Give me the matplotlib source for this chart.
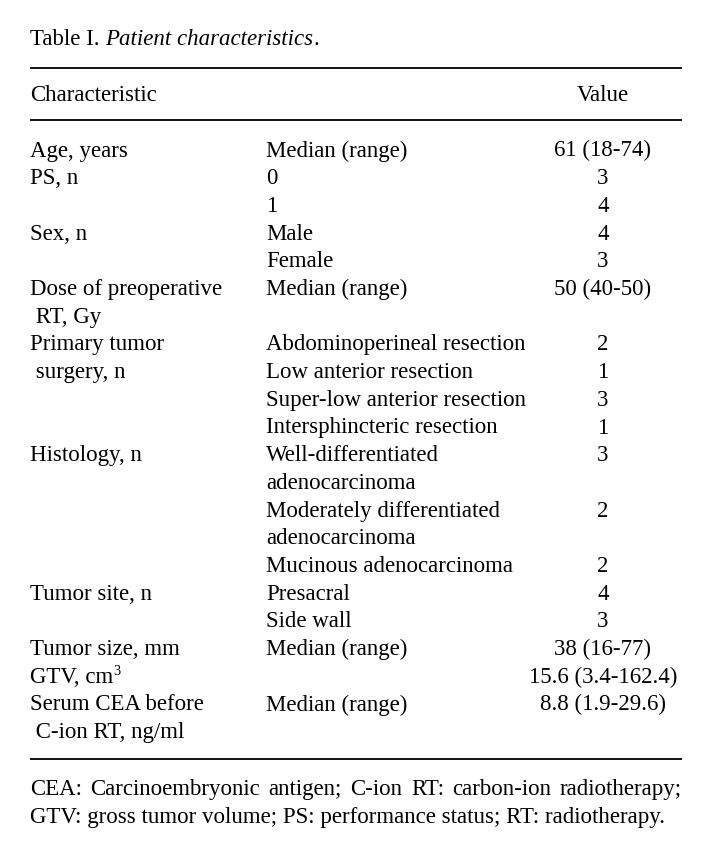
import matplotlib
matplotlib.use('Agg')
import matplotlib.pyplot as plt

plt.rcParams['font.family'] = ['Liberation Serif', 'DejaVu Serif']

# Table content, one entry per printed line
caption_label = 'Table I. '
caption_title = 'Patient characteristics'
headers = ['Characteristic', 'Value']

characteristic = ['Age, years', 'PS, n', '', 'Sex, n', '', 'Dose of preoperative', ' RT, Gy',
                  'Primary tumor', ' surgery, n', '', '', 'Histology, n', '', '', '', '',
                  'Tumor site, n', '', 'Tumor size, mm', 'GTV, cm', 'Serum CEA before',
                  ' C-ion RT, ng/ml']
superscript = ['', '', '', '', '', '', '', '', '', '', '', '', '', '', '', '', '', '', '', '3', '', '']
category = ['Median (range)', '0', '1', 'Male', 'Female', 'Median (range)', '',
            'Abdominoperineal resection', 'Low anterior resection', 'Super-low anterior resection',
            'Intersphincteric resection', 'Well-differentiated', 'adenocarcinoma',
            'Moderately differentiated', 'adenocarcinoma', 'Mucinous adenocarcinoma',
            'Presacral', 'Side wall', 'Median (range)', '', 'Median (range)', '']
value = ['61 (18-74)', '3', '4', '4', '3', '50 (40-50)', '', '2', '1', '3', '1', '3', '',
         '2', '', '2', '4', '3', '38 (16-77)', '15.6 (3.4-162.4)', '8.8 (1.9-29.6)', '']

footnote = ['CEA: Carcinoembryonic antigen; C-ion RT: carbon-ion radiotherapy;',
            'GTV: gross tumor volume; PS: performance status; RT: radiotherapy.']

W, H = 710, 858
fig = plt.figure(figsize=(W / 100, H / 100), dpi=100)
ax = fig.add_axes([0, 0, 1, 1])
ax.set_xlim(0, W)
ax.set_ylim(H, 0)
ax.axis('off')

fs = 16.5
left, right = 30, 682
x_cat, x_val = 266, 603

renderer = fig.canvas.get_renderer()


def width_of(t):
    return t.get_window_extent(renderer=renderer).width


# caption
t = ax.text(left, 45, caption_label, fontsize=fs, va='baseline')
x = left + width_of(t)
t = ax.text(x, 45, caption_title, fontsize=fs, va='baseline', style='italic')
x += width_of(t)
ax.text(x, 45, '.', fontsize=fs, va='baseline')

# rules
for y in [68, 120, 759]:
    ax.plot([left, right], [y, y], color='black', lw=1.3, solid_capstyle='butt')

# header
ax.text(left, 101, headers[0], fontsize=fs, va='baseline')
ax.text(x_val, 101, headers[1], fontsize=fs, va='baseline', ha='center')

# body
y0, dy = 156.5, 27.7
for i in range(len(characteristic)):
    y = y0 + i * dy
    tc = ax.text(left, y, characteristic[i], fontsize=fs, va='baseline')
    if superscript[i]:
        ax.text(left + width_of(tc) + 0.5, y - 8, superscript[i], fontsize=fs * 0.62, va='baseline')
    ax.text(x_cat, y, category[i], fontsize=fs, va='baseline')
    tv = ax.text(x_val, y, value[i], fontsize=fs, va='baseline', ha='center')
    w = width_of(tv) if value[i] else 0
    if x_val + w / 2 > right:
        tv.set_x(right - w / 2)

# footnote: first line justified, last line left aligned
words = footnote[0].split(' ')
texts = [ax.text(0, 795, w, fontsize=fs, va='baseline') for w in words]
widths = [width_of(tt) for tt in texts]
gap = (right - left - sum(widths)) / (len(words) - 1)
x = left
for tt, w in zip(texts, widths):
    tt.set_x(x)
    x += w + gap
ax.text(left, 822.5, footnote[1], fontsize=fs, va='baseline')

fig.savefig('out.png', dpi=100)
